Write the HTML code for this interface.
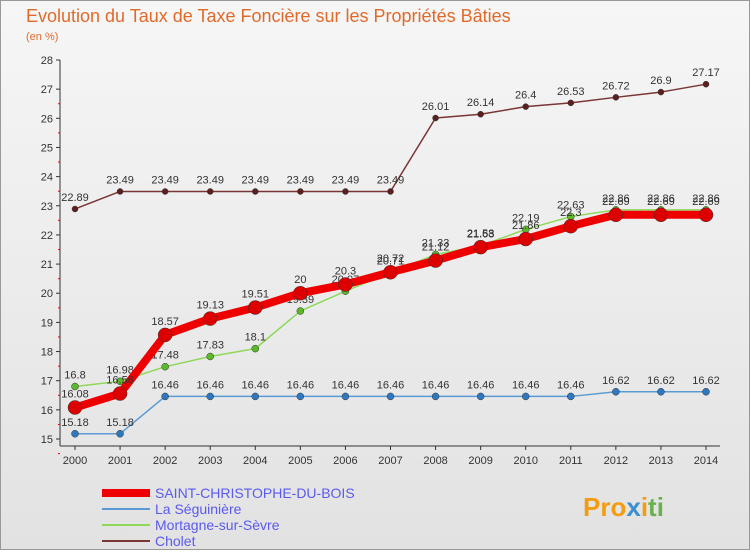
<!DOCTYPE html>
<html><head><meta charset="utf-8"><style>
body{margin:0;width:750px;height:550px;overflow:hidden;font-family:"Liberation Sans",sans-serif}
</style></head><body>
<svg width="750" height="550" xmlns="http://www.w3.org/2000/svg">
<defs><linearGradient id="bg" x1="0" y1="0" x2="0" y2="1"><stop offset="0" stop-color="#f6f6f6"/><stop offset="1" stop-color="#e2e2e2"/></linearGradient></defs>
<rect x="0.5" y="0.5" width="749" height="549" fill="url(#bg)" stroke="#999"/>
<text x="26" y="22" font-size="18" fill="#e06a2a">Evolution du Taux de Taxe Foncière sur les Propriétés Bâties</text>
<text x="26" y="40" font-size="11" fill="#e06a2a">(en %)</text>
<g id="axes"></g><g id="series"></g><g id="legend"></g>
<text x="583" y="516" font-size="26" font-weight="bold" fill="#f39c12">Pro<tspan fill="#3a8fd0">x</tspan><tspan fill="#f39c12">i</tspan><tspan fill="#6ab04c">ti</tspan></text>
</svg>
<script>
const years=[2000,2001,2002,2003,2004,2005,2006,2007,2008,2009,2010,2011,2012,2013,2014];
const yTicks=[15,16,17,18,19,20,21,22,23,24,25,26,27,28];
const stChristophe=[16.08,16.56,18.57,19.13,19.51,20,20.3,20.72,21.12,21.58,21.86,22.3,22.69,22.69,22.69];
const seguiniere=[15.18,15.18,16.46,16.46,16.46,16.46,16.46,16.46,16.46,16.46,16.46,16.46,16.62,16.62,16.62];
const mortagne=[16.8,16.98,17.48,17.83,18.1,19.39,20.07,20.71,21.33,21.63,22.19,22.63,22.86,22.86,22.86];
const cholet=[22.89,23.49,23.49,23.49,23.49,23.49,23.49,23.49,26.01,26.14,26.4,26.53,26.72,26.9,27.17];
const names=["SAINT-CHRISTOPHE-DU-BOIS","La Séguinière","Mortagne-sur-Sèvre","Cholet"];
const NS="http://www.w3.org/2000/svg";
const X=i=>75+i*(706-75)/14, Y=v=>439-(v-15)*(439-60)/13;
function mk(t,a,p){const e=document.createElementNS(NS,t);for(const k in a)e.setAttribute(k,a[k]);p.appendChild(e);return e;}
const ax=document.getElementById('axes');
let e=mk('line',{x1:60,y1:60,x2:60,y2:446,stroke:'#333'},ax);

e=mk('line',{x1:60,y1:446,x2:720,y2:446,stroke:'#333'},ax);

yTicks.forEach(v=>{const y=Y(v);mk('line',{x1:56,y1:y,x2:60,y2:y,stroke:'#333'},ax);
 if(v<28)mk('line',{x1:58,y1:y+14.6,x2:60,y2:y+14.6,stroke:'#e00'},ax);
 const t=mk('text',{x:53,y:y+4,'font-size':11,'text-anchor':'end',fill:'#333'},ax);t.textContent=v;
 });
years.forEach((yr,i)=>{const x=X(i);mk('line',{x1:x,y1:446,x2:x,y2:450,stroke:'#333'},ax);
 const t=mk('text',{x:x,y:464,'font-size':11,'text-anchor':'middle',fill:'#333'},ax);t.textContent=yr;
 });
const sg=document.getElementById('series');
const defs=[[cholet,'#7a3535','#5a2020',1.5,3,-8],[seguiniere,'#5b9bd5','#2f78c0',1.5,3.5,-8],[mortagne,'#8fd85a','#5bb82a',1.5,3.5,-8],[stChristophe,'#ee0000','#dd0000',8,7,-10]];
const order=[3,1,2,0];
defs.forEach((d,k)=>{const [data,col,pc,w,r,dy]=d;const g=mk('g',{},sg);
 
 const l=mk('polyline',{points:data.map((v,i)=>X(i)+','+Y(v)).join(' '),fill:'none',stroke:col,'stroke-width':w,'stroke-linejoin':'round'},g);
 
 data.forEach((v,i)=>{const c=mk('circle',{cx:X(i),cy:Y(v),r:r,fill:pc,stroke:'#333','stroke-width':0.5},g);
  
  const t=mk('text',{x:X(i),y:Y(v)+dy,'font-size':11,'text-anchor':'middle',fill:'#333'},g);t.textContent=v;
  });});
const lg=document.getElementById('legend');
const lc=[['#ee0000',8],['#5b9bd5',2],['#8fd85a',2],['#7a3535',2]];
names.forEach((n,i)=>{const y=493+i*16;const g=mk('g',{},lg);
 
 mk('line',{x1:102,y1:y,x2:150,y2:y,stroke:lc[i][0],'stroke-width':lc[i][1]},g);
 const t=mk('text',{x:155,y:y+5,'font-size':14,fill:'#5a5aee'},g);t.textContent=n;});
</script>
</body></html>
